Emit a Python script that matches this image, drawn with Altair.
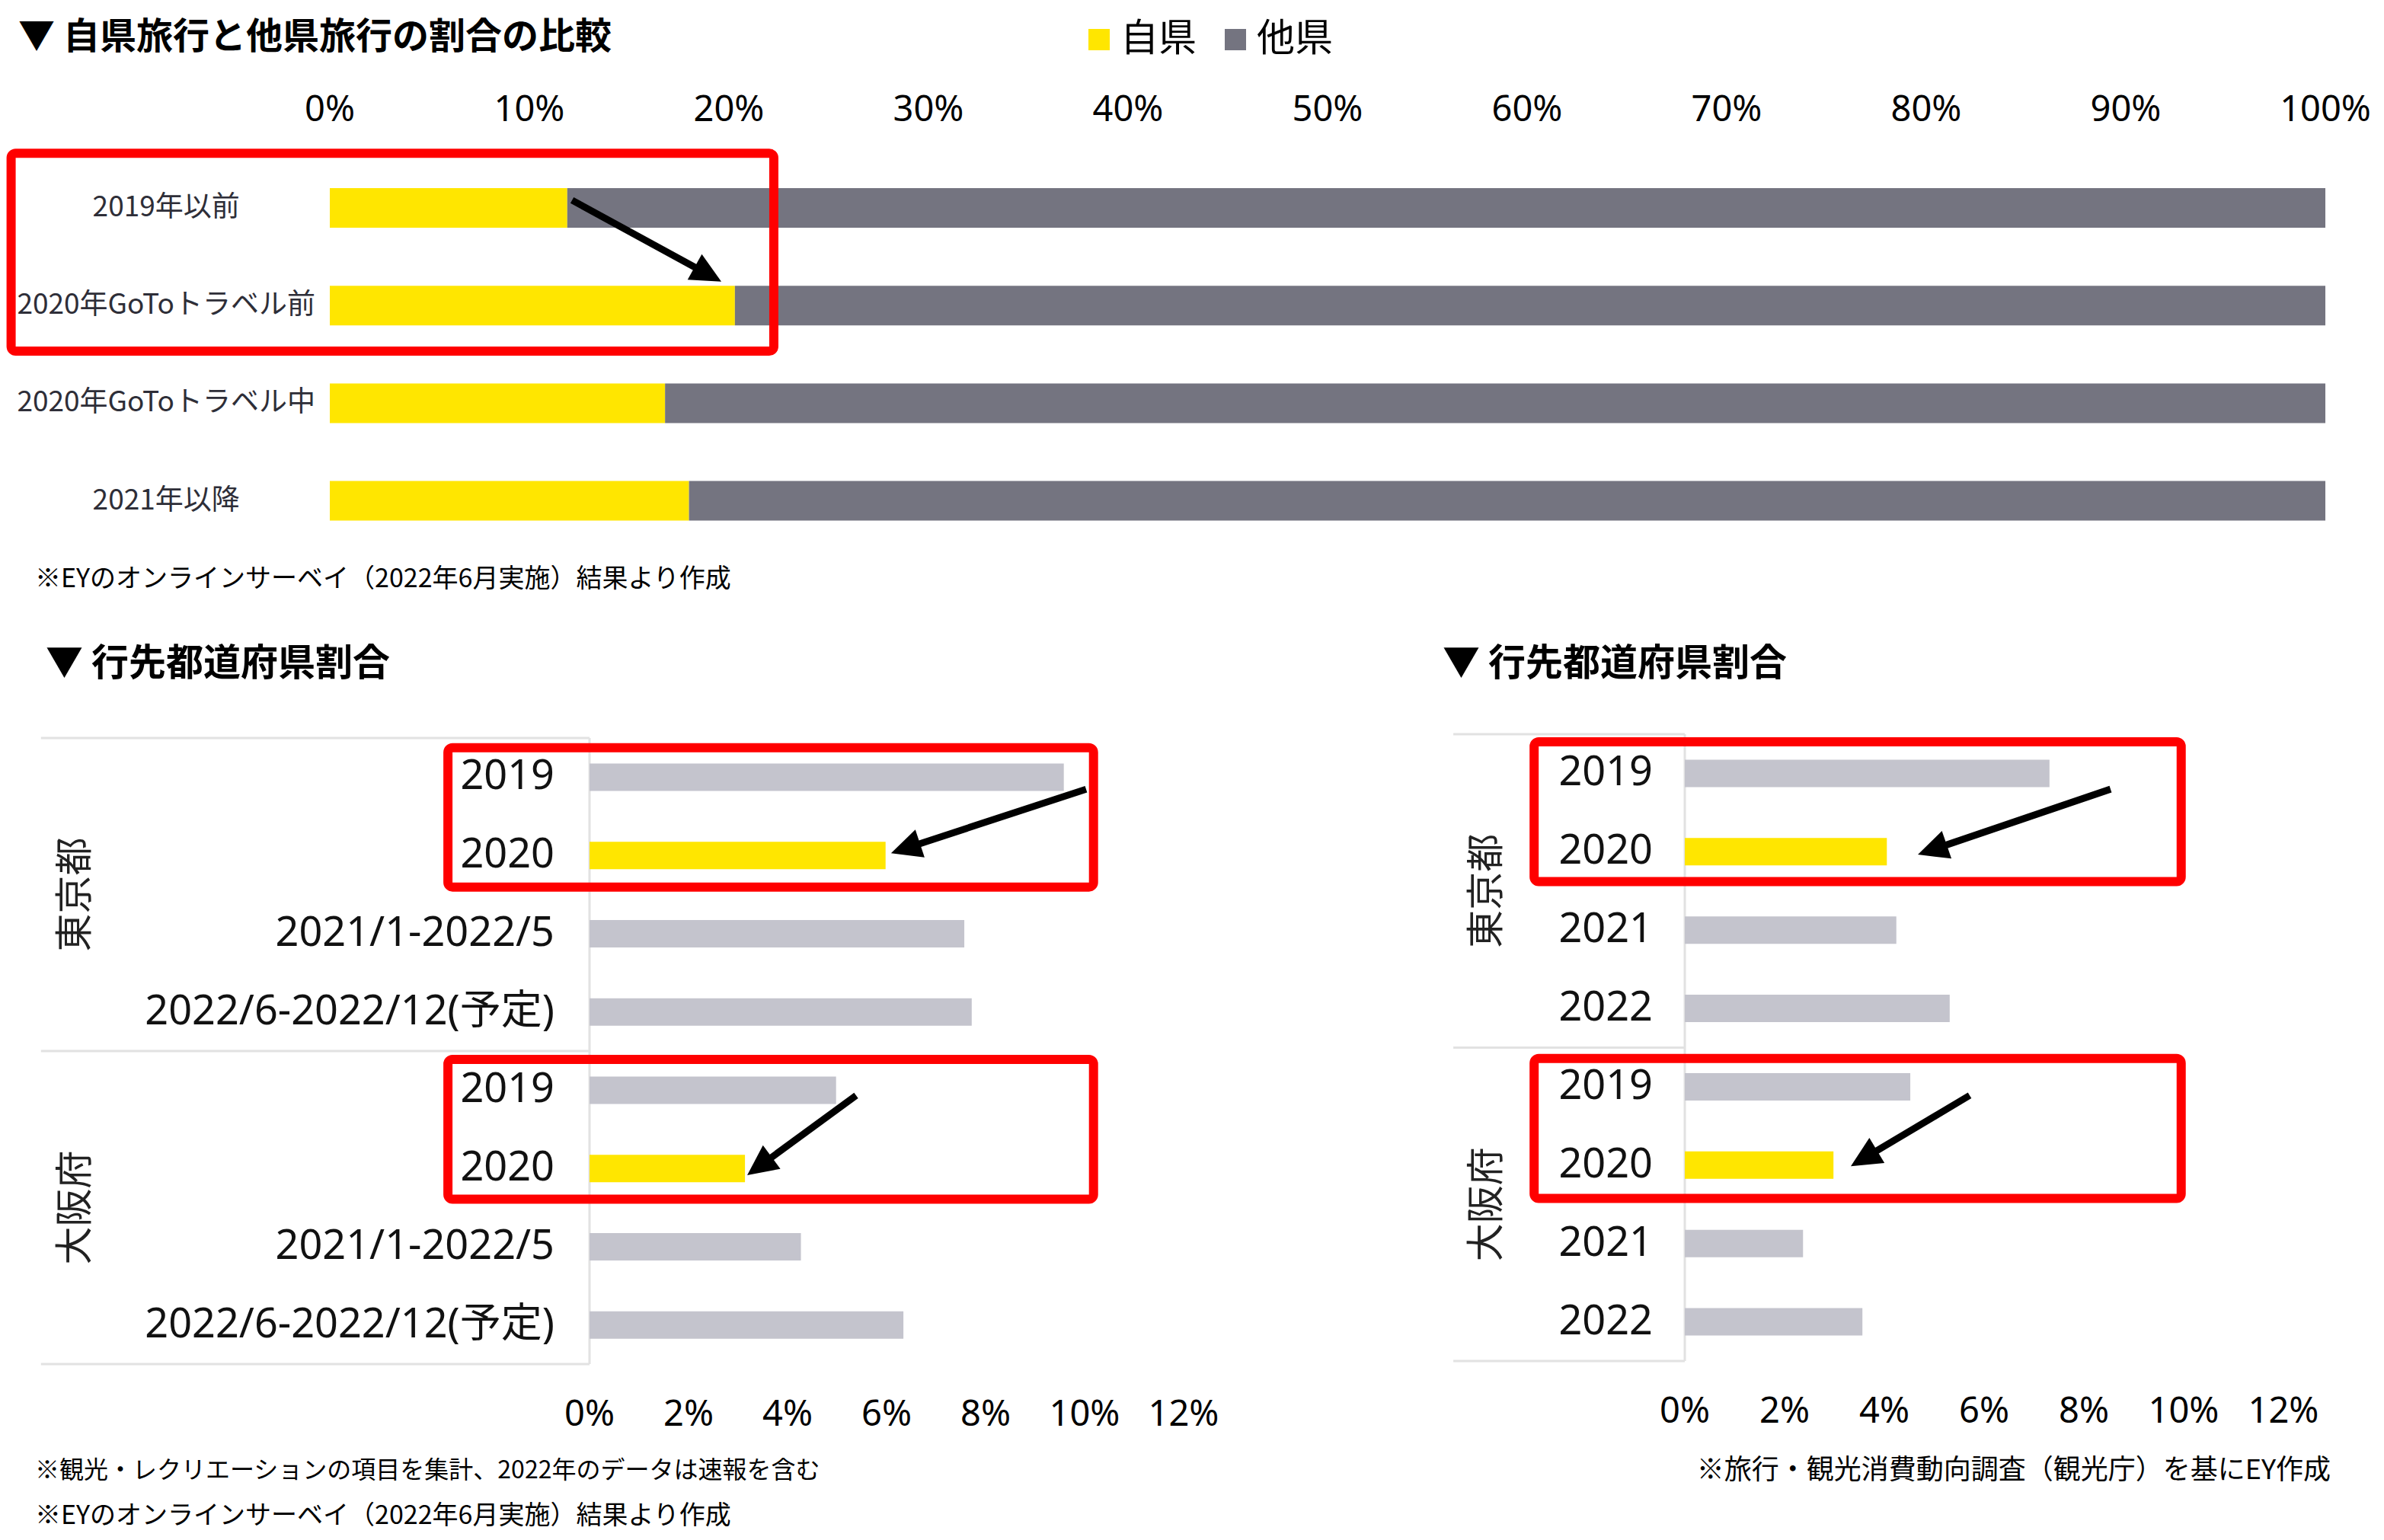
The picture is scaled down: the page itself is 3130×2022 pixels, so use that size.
import math
import altair as alt
import pandas as pd

# ---------------- data ----------------
TOP_CATS = ["2019年以前", "2020年GoToトラベル前", "2020年GoToトラベル中", "2021年以降"]
TOP_SELF = [11.9, 20.3, 16.8, 18.0]          # 自県 share (%)
TOP_TICKS = [0, 10, 20, 30, 40, 50, 60, 70, 80, 90, 100]
SERIES = ["自県", "他県"]

PREFS = ["東京都", "大阪府"]
PERIODS_L = ["2019", "2020", "2021/1-2022/5", "2022/6-2022/12(予定)"]
EY_TOKYO = [9.58, 5.98, 7.57, 7.72]
EY_OSAKA = [4.98, 3.14, 4.27, 6.34]
PERIODS_R = ["2019", "2020", "2021", "2022"]
JTA_TOKYO = [7.31, 4.05, 4.24, 5.31]
JTA_OSAKA = [4.52, 2.98, 2.37, 3.56]
BOTTOM_TICKS = [0, 2, 4, 6, 8, 10, 12]

TITLE_TOP = "▼ 自県旅行と他県旅行の割合の比較"
TITLE_BOTTOM = "▼ 行先都道府県割合"
NOTE_TOP = "※EYのオンラインサーベイ（2022年6月実施）結果より作成"
NOTE_L1 = "※観光・レクリエーションの項目を集計、2022年のデータは速報を含む"
NOTE_L2 = "※EYのオンラインサーベイ（2022年6月実施）結果より作成"
NOTE_R = "※旅行・観光消費動向調査（観光庁）を基にEY作成"

# ---------------- style ----------------
YEL = "#FFE600"
DGRAY = "#747480"
LGRAY = "#C4C4CD"
RED = "#FF0000"
CJK = "'Noto Sans CJK JP'"
LAT = "'Noto Sans', 'Noto Sans CJK JP'"

OY = 14                      # top padding of the chart (px)
W, H = 3114, 2006 - OY


def yy(v):
    return v - OY


# panel scale setups (domain in data units, range in px)
PT = dict(xd=(0, 100), xr=(425, 3045), yd=(-0.5, 3.5), yr=(yy(196), yy(718.7)))
PL = dict(xd=(0, 12), xr=(766, 1546), yd=(-0.5, 7.5), yr=(yy(956), yy(1788)))
PR = dict(xd=(0, 12), xr=(2204, 2990), yd=(-0.5, 7.5), yr=(yy(951), yy(1784)))


def sc(d, r):
    return alt.Scale(domain=list(d), range=list(r), nice=False, zero=False)


def X(f, p):
    return alt.X(f, scale=sc(p["xd"], p["xr"]), axis=None)


def Y(f, p):
    return alt.Y(f, scale=sc(p["yd"], p["yr"]), axis=None)


def to_px(p, x, y):
    (x0, x1), (a0, a1) = p["xd"], p["xr"]
    (y0, y1), (b0, b1) = p["yd"], p["yr"]
    return a0 + (x - x0) / (x1 - x0) * (a1 - a0), b0 + (y - y0) / (y1 - y0) * (b1 - b0)


HEAD = "M0,0L0.48,1L-0.48,1Z"


def arrow(p, start, tip, head=40, width=9):
    sx, sy = to_px(p, *start)
    tx, ty = to_px(p, *tip)
    dx, dy = tx - sx, ty - sy
    L = math.hypot(dx, dy)
    ang = math.degrees(math.atan2(dx, -dy)) % 360
    t = 1 - head * 0.7 / L
    ex = start[0] + (tip[0] - start[0]) * t
    ey = start[1] + (tip[1] - start[1]) * t
    line = alt.Chart(pd.DataFrame({"x": [start[0]], "y": [start[1]], "x2": [ex], "y2": [ey]})).mark_rule(
        strokeWidth=width, color="black", strokeCap="butt"
    ).encode(x=X("x:Q", p), y=Y("y:Q", p), x2="x2:Q", y2="y2:Q")
    hd = alt.Chart(pd.DataFrame({"x": [tip[0]], "y": [tip[1]]})).mark_point(
        shape=HEAD, size=(2 * head) ** 2, angle=ang, filled=True, color="black", opacity=1, strokeWidth=0
    ).encode(x=X("x:Q", p), y=Y("y:Q", p))
    return [line, hd]


def box(p, x0, x1, y0, y1):
    return alt.Chart(pd.DataFrame({"x": [x0], "x2": [x1], "y": [y0], "y2": [y1]})).mark_rect(
        filled=False, stroke=RED, strokeWidth=12, cornerRadius=6
    ).encode(x=X("x:Q", p), x2="x2:Q", y=Y("y:Q", p), y2="y2:Q")


# ---------------- top panel ----------------
top_rows = []
for i, (c, v) in enumerate(zip(TOP_CATS, TOP_SELF)):
    top_rows.append({"r": i, "k": SERIES[0], "s": 0, "e": v})
    top_rows.append({"r": i, "k": SERIES[1], "s": v, "e": 100})
top_df = pd.DataFrame(top_rows)

top_bars = alt.Chart(top_df).mark_bar(orient="horizontal", size=52).encode(
    x=X("s:Q", PT), x2="e:Q", y=Y("r:Q", PT),
    color=alt.Color("k:N", scale=alt.Scale(domain=SERIES, range=[YEL, DGRAY]),
                    legend=alt.Legend(orient="none", legendX=1410, legendY=yy(19), direction="horizontal",
                                      title=None, symbolType="square", symbolSize=784,
                                      symbolStrokeWidth=0, symbolOpacity=1,
                                      labelFont=CJK, labelFontSize=50, labelColor="#000",
                                      labelOffset=3, columnPadding=26, padding=0)),
)

TOP_LABEL_X = -8.2
top_lab_df = pd.DataFrame({"r": range(len(TOP_CATS)), "lab": TOP_CATS, "x": TOP_LABEL_X})
top_labels = alt.Chart(top_lab_df).mark_text(font=CJK, fontSize=37, color="#2e2e38", align="center",
                                               baseline="middle").encode(
    x=X("x:Q", PT), y=Y("r:Q", PT), text="lab:N")

top_tick_df = pd.DataFrame({"t": TOP_TICKS, "lab": [f"{t}%" for t in TOP_TICKS], "y": -1.0})
top_ticks = alt.Chart(top_tick_df).mark_text(font=LAT, fontSize=47, color="#000", align="center",
                                             baseline="middle").encode(
    x=X("t:Q", PT), y=Y("y:Q", PT), text="lab:N")

top_panel = alt.layer(
    top_bars, top_labels, top_ticks,
    box(PT, -15.97, 22.25, -0.56, 1.467),
    *arrow(PT, (12.14, -0.08), (19.62, 0.755), head=40, width=9),
)


# ---------------- bottom panels ----------------
def bottom_panel(p, periods, tokyo, osaka, frame_left, group_x, boxes, arrows, label_dx):
    rows = []
    idx = 0
    for pref, vals in zip(PREFS, [tokyo, osaka]):
        for per, v in zip(periods, vals):
            rows.append({"r": idx, "lab": per, "v": v, "s": 0.0,
                         "col": YEL if per == "2020" else LGRAY})
            idx += 1
    df = pd.DataFrame(rows)
    n = len(periods)
    bars = alt.Chart(df).mark_bar(orient="horizontal", size=36).encode(
        x=X("s:Q", p), x2="v:Q", y=Y("r:Q", p), color=alt.Color("col:N", scale=None))
    labels = alt.Chart(df).mark_text(font=LAT, fontSize=54, color="#111", align="right", baseline="middle",
                                     dx=label_dx).encode(x=X("s:Q", p), y=Y("r:Q", p), text="lab:N")
    bnd = [-0.5 + n * g for g in range(len(PREFS) + 1)]
    hlines = alt.Chart(pd.DataFrame({"y": bnd, "x": frame_left, "x2": 0.0})).mark_rule(
        color="#e2e2e2", strokeWidth=3).encode(x=X("x:Q", p), x2="x2:Q", y=Y("y:Q", p))
    vline = alt.Chart(pd.DataFrame({"x": [0.0], "y": [bnd[0]], "y2": [bnd[-1]]})).mark_rule(
        color="#e2e2e2", strokeWidth=3).encode(x=X("x:Q", p), y=Y("y:Q", p), y2="y2:Q")
    gdf = pd.DataFrame({"g": PREFS, "y": [n * g + (n - 1) / 2 for g in range(len(PREFS))], "x": group_x})
    glabels = alt.Chart(gdf).mark_text(font=CJK, fontSize=50, color="#222", angle=270, align="center",
                                       baseline="middle").encode(x=X("x:Q", p), y=Y("y:Q", p), text="g:N")
    tdf = pd.DataFrame({"t": BOTTOM_TICKS, "lab": [f"{t}%" for t in BOTTOM_TICKS], "y": 8.15})
    ticks = alt.Chart(tdf).mark_text(font=LAT, fontSize=47, color="#000", align="center",
                                     baseline="middle").encode(x=X("t:Q", p), y=Y("y:Q", p), text="lab:N")
    layers = [hlines, vline, bars, labels, glabels, ticks]
    for b in boxes:
        layers.append(box(p, *b))
    for a in arrows:
        layers.extend(arrow(p, *a, head=40, width=9))
    return alt.layer(*layers)


left_panel = bottom_panel(
    PL, PERIODS_L, EY_TOKYO, EY_OSAKA, frame_left=-11.08, group_x=-10.37,
    boxes=[(-2.86, 10.18, -0.375, 1.404), (-2.86, 10.18, 3.606, 5.394)],
    arrows=[((10.03, 0.154), (6.09, 0.971)), ((5.385, 4.067), (3.185, 5.087))],
    label_dx=-46,
)
right_panel = bottom_panel(
    PR, PERIODS_R, JTA_TOKYO, JTA_OSAKA, frame_left=-4.64, group_x=-3.95,
    boxes=[(-3.02, 9.95, -0.404, 1.382), (-3.02, 9.95, 3.639, 5.425)],
    arrows=[((8.534, 0.201), (4.672, 1.037)), ((5.71, 4.110), (3.328, 5.013))],
    label_dx=-42,
)


# ---------------- titles & notes ----------------
def txt(s, x, y, size, bold=False, align="left"):
    return alt.Chart(pd.DataFrame({"t": [s]})).mark_text(
        font=CJK, fontSize=size, fontWeight="bold" if bold else "normal", color="#000",
        align=align, baseline="middle").encode(x=alt.value(x), y=alt.value(yy(y)), text="t:N")


texts = [
    txt(TITLE_TOP, 16, 42, 48, bold=True),
    txt(NOTE_TOP, 38, 753, 34),
    txt(TITLE_BOTTOM, 52, 864, 49, bold=True),
    txt(TITLE_BOTTOM, 1886, 864, 49, bold=True),
    txt(NOTE_L1, 38, 1923, 32),
    txt(NOTE_L2, 38, 1983, 34),
    txt(NOTE_R, 3052, 1923, 36, align="right"),
]

chart = alt.layer(top_panel, left_panel, right_panel, *texts).resolve_scale(
    x="independent", y="independent", color="independent"
).properties(
    width=W, height=H, background="white",
    padding={"top": OY, "left": 0, "right": 0, "bottom": 0},
    autosize=alt.AutoSizeParams(type="none"),
).configure_view(stroke=None)

chart.save("out.html", embed_options={"renderer": "svg", "actions": False})
